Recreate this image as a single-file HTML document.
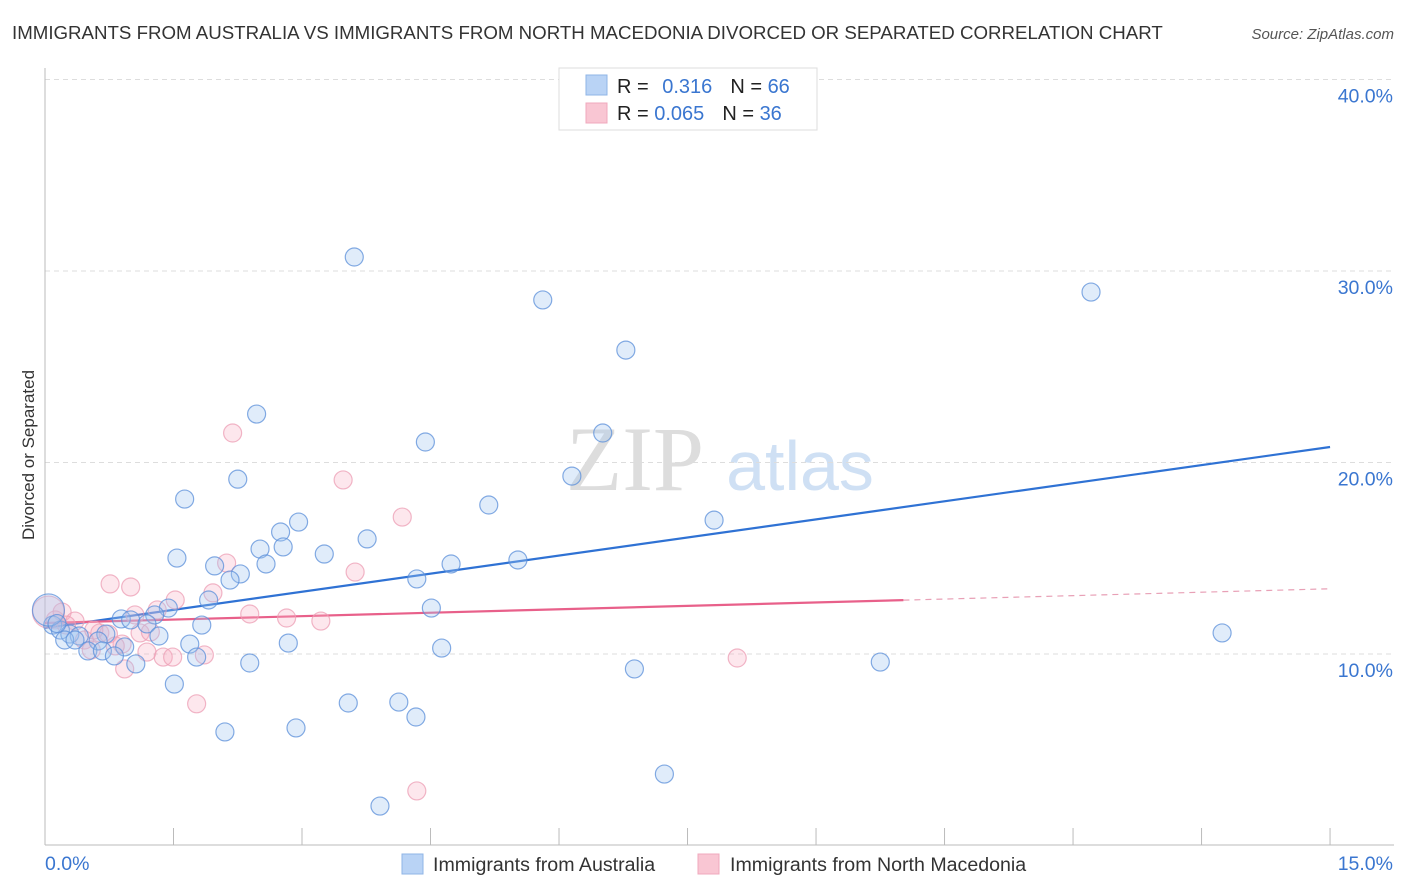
<!DOCTYPE html>
<html><head><meta charset="utf-8"><style>
body{margin:0;background:#fff;font-family:"Liberation Sans",sans-serif;}
svg{display:block}
</style></head><body>
<svg id="chart" width="1406" height="892">
<text x="12" y="39" font-size="18.7" fill="#333">IMMIGRANTS FROM AUSTRALIA VS IMMIGRANTS FROM NORTH MACEDONIA DIVORCED OR SEPARATED CORRELATION CHART</text>
<text x="1394" y="39" font-size="15" fill="#555" font-style="italic" text-anchor="end">Source: ZipAtlas.com</text>
<text x="34" y="455" font-size="17" fill="#333" text-anchor="middle" transform="rotate(-90 34 455)">Divorced or Separated</text>
<g><text x="635" y="490" font-size="92" fill="#ddd" font-family="Liberation Serif,serif" text-anchor="middle">ZIP</text><text x="800" y="490" font-size="70" fill="#cfe0f4" text-anchor="middle">atlas</text></g>
<g id="grid"></g><g id="axes"></g><g id="trend"></g><g id="pts"></g>
<g>
<rect x="559" y="68" width="258" height="62" fill="#fff" stroke="#ddd"/>
<rect x="586" y="75" width="21" height="20" fill="#b9d3f5" stroke="#8fb5e6"/>
<rect x="586" y="103" width="21" height="20" fill="#f9c6d3" stroke="#f0a8bc"/>
<text x="617" y="93" font-size="20" fill="#222">R = <tspan fill="#3a76d0" dx="8">0.316</tspan><tspan dx="18" fill="#222">N = </tspan><tspan fill="#3a76d0">66</tspan></text>
<text x="617" y="120" font-size="20" fill="#222">R = <tspan fill="#3a76d0">0.065</tspan><tspan dx="18" fill="#222">N = </tspan><tspan fill="#3a76d0">36</tspan></text>
</g>
<g>
<rect x="402" y="854" width="21" height="20" fill="#b9d3f5" stroke="#8fb5e6"/>
<text x="433" y="871" font-size="19.6" fill="#333">Immigrants from Australia</text>
<rect x="698" y="854" width="21" height="20" fill="#f9c6d3" stroke="#f0a8bc"/>
<text x="730" y="871" font-size="19.6" fill="#333">Immigrants from North Macedonia</text>
</g>
</svg>
<script>
const yTicks=[10,20,30,40];
const yTickLabels=["10.0%","20.0%","30.0%","40.0%"];
const xTicks=[0,1.5,3,4.5,6,7.5,9,10.5,12,13.5,15];
const xEndLabels=["0.0%","15.0%"];
const blueX=[3.61,5.81,12.21,6.78,2.47,4.44,6.51,2.25,6.15,1.63,5.18,7.81,2.96,2.75,3.76,2.51,2.78,3.26,1.54,5.52,4.74,1.98,2.58,2.28,2.16,4.34,1.91,1.44,4.51,1.28,0.89,1.00,1.19,1.83,0.09,0.18,0.29,0.40,1.33,0.71,0.23,0.62,0.93,2.84,1.69,13.74,4.63,0.50,0.67,0.81,1.77,2.39,1.06,9.75,6.88,1.51,3.54,4.13,4.33,2.10,2.93,7.23,3.91,0.04,0.14,0.35];
const blueY=[30.73,28.49,28.90,25.87,22.53,21.07,21.54,19.13,19.29,18.09,17.78,16.99,16.89,16.37,16.01,15.48,15.59,15.22,15.01,14.91,14.70,14.60,14.70,14.18,13.86,13.92,12.82,12.40,12.40,12.04,11.83,11.78,11.57,11.51,11.51,11.25,11.04,10.94,10.94,11.04,10.73,10.68,10.37,10.57,10.52,11.10,10.31,10.16,10.16,9.90,9.84,9.53,9.48,9.58,9.22,8.43,7.44,7.49,6.71,5.93,6.14,3.73,2.06,12.30,11.59,10.73];
const pinkX=[2.19,3.48,4.17,2.12,3.62,0.76,1.00,1.96,1.31,2.39,2.82,3.22,0.20,0.12,0.35,0.64,0.74,1.11,1.23,0.46,0.90,0.82,0.54,1.19,1.38,1.49,1.86,8.08,0.93,1.77,4.34,0.04,0.25,0.57,1.52,1.05];
const pinkY=[21.54,19.09,17.15,14.75,14.28,13.66,13.50,13.19,12.30,12.09,11.88,11.72,12.19,11.78,11.72,11.10,11.04,11.10,11.15,10.73,10.52,10.42,10.21,10.10,9.84,9.84,9.95,9.79,9.22,7.40,2.85,12.19,11.51,11.25,12.82,12.04];
const blueTrend=[11.36,0.63];
const pinkTrend=[11.62,0.119];
const pinkSolidEnd=10.02;
const NS="http://www.w3.org/2000/svg";
const sx=v=>45+v*85.67, sy=v=>845.5-v*19.15;
function mk(p,t,a){const e=document.createElementNS(NS,t);for(const k in a)e.setAttribute(k,a[k]);p.appendChild(e);return e;}
const grid=document.getElementById('grid'),axes=document.getElementById('axes'),trend=document.getElementById('trend'),pts=document.getElementById('pts');
yTicks.forEach((t,i)=>{const l=mk(grid,'line',{x1:45,x2:1394,y1:sy(t),y2:sy(t),stroke:'#ddd','stroke-dasharray':'5,4'});


const tx=mk(axes,'text',{x:1393,y:sy(t)+23,'font-size':19.5,fill:'#3a76d0','text-anchor':'end'});tx.textContent=yTickLabels[i];

});
const ax=mk(axes,'line',{x1:45,x2:1394,y1:845,y2:845,stroke:'#bbb'});


const ay=mk(axes,'line',{x1:45,x2:45,y1:68,y2:845,stroke:'#bbb'});


xTicks.forEach(t=>{const l=mk(axes,'line',{x1:sx(t),x2:sx(t),y1:828,y2:845,stroke:'#bbb'});

});
const xl0=mk(axes,'text',{x:45,y:870,'font-size':19.5,fill:'#3a76d0'});xl0.textContent=xEndLabels[0];


const xl1=mk(axes,'text',{x:1393,y:870,'font-size':19.5,fill:'#3a76d0','text-anchor':'end'});xl1.textContent=xEndLabels[1];


function dots(X,Y,fill,stroke,name){X.forEach((x,i)=>{const r=(x<0.06&&Y[i]>12)?16:9;const c=mk(pts,'circle',{cx:sx(x),cy:sy(Y[i]),r:r,fill:fill,stroke:stroke,'stroke-width':1.2,'stroke-opacity':0.75});

});}
dots(pinkX,pinkY,'rgba(247,175,195,0.3)','#ec9db4','point-north-macedonia');
dots(blueX,blueY,'rgba(160,196,240,0.33)','#5b8fd9','point-australia');
const bt=mk(trend,'line',{x1:sx(0),y1:sy(blueTrend[0]),x2:sx(15),y2:sy(blueTrend[0]+blueTrend[1]*15),stroke:'#2f72d4','stroke-width':2.2});


const pt=mk(trend,'line',{x1:sx(0),y1:sy(pinkTrend[0]),x2:sx(pinkSolidEnd),y2:sy(pinkTrend[0]+pinkTrend[1]*pinkSolidEnd),stroke:'#e8608a','stroke-width':2.2});


const pd=mk(trend,'line',{x1:sx(pinkSolidEnd),y1:sy(pinkTrend[0]+pinkTrend[1]*pinkSolidEnd),x2:sx(15),y2:sy(pinkTrend[0]+pinkTrend[1]*15),stroke:'#e8a0b6','stroke-width':1.2,'stroke-dasharray':'6,5'});


</script>
</body></html>
